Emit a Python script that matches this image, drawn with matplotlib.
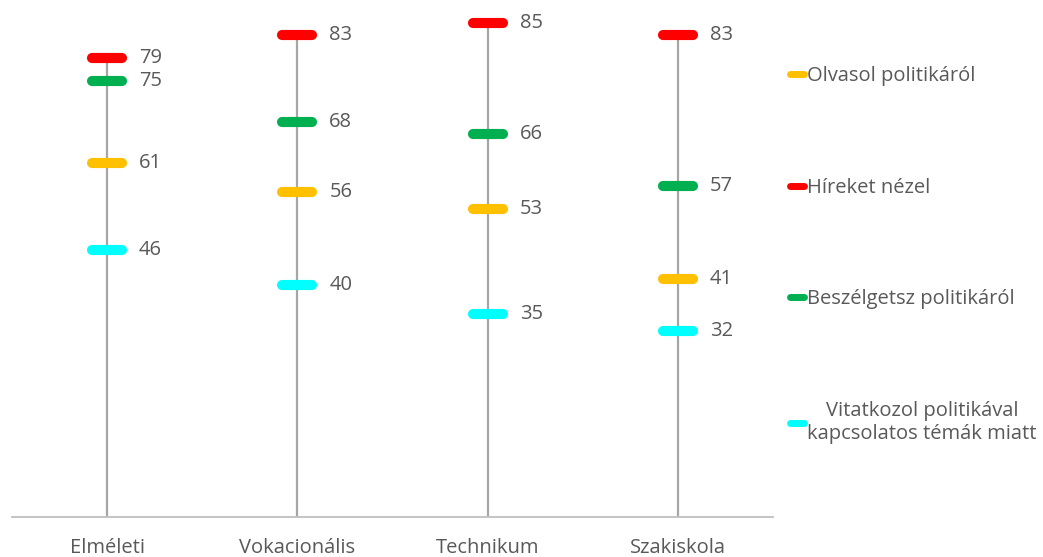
import numpy as np
import matplotlib.pyplot as plt
from matplotlib.markers import MarkerStyle

plt.rcParams['font.family'] = ['Open Sans', 'DejaVu Sans']

categories = ["Elméleti", "Vokacionális", "Technikum", "Szakiskola"]
olvasol = [61, 56, 53, 41]       # Olvasol politikáról
hireket = [79, 83, 85, 83]       # Híreket nézel
beszelgetsz = [75, 68, 66, 57]   # Beszélgetsz politikáról
vitatkozol = [46, 40, 35, 32]    # Vitatkozol ...

series = [
    ("Olvasol politikáról", olvasol, "#FFC000"),
    ("Híreket nézel", hireket, "#FF0000"),
    ("Beszélgetsz politikáról", beszelgetsz, "#00B050"),
    ("Vitatkozol politikával\nkapcsolatos témák miatt", vitatkozol, "#00FFFF"),
]
txt_col = "#595959"

fig = plt.figure(figsize=(10.43, 5.57), dpi=100)
ax = fig.add_axes([12 / 1043, 40 / 557, (773 - 12) / 1043, 517 / 557])

x = np.arange(len(categories))
tops = np.max([s[1] for s in series], axis=0)
ax.vlines(x, 0, tops, color="#A6A6A6", linewidth=1.6, zorder=1)

mk = MarkerStyle("_", capstyle="round")
for name, vals, col in series:
    ax.plot(x, vals, linestyle="none", marker=mk, markersize=21,
            markeredgewidth=7.3, color=col, label=name, zorder=3)
    for xi, v in zip(x, vals):
        ax.annotate(str(v), (xi, v), xytext=(23, 0), textcoords="offset points",
                    va="center", ha="left", fontsize=14.5, color=txt_col)

ax.set_xlim(-0.5, 3.5)
ax.set_ylim(0, 89)
ax.set_xticks(x)
ax.set_xticklabels(categories, fontsize=14.5, color=txt_col)
ax.tick_params(axis="x", length=0, pad=15)
ax.set_yticks([])
for side in ["top", "right", "left"]:
    ax.spines[side].set_visible(False)
ax.spines["bottom"].set_color("#BFBFBF")
ax.spines["bottom"].set_linewidth(1.3)

leg_handles = [plt.Line2D([0], [0], color=c, linewidth=5, solid_capstyle="round")
               for _, _, c in series]
leg = fig.legend(leg_handles, [s[0] for s in series], loc="upper left",
                 bbox_to_anchor=(774 / 1043, 1 - 50 / 557), frameon=False,
                 fontsize=14.5, handlelength=0.7, handletextpad=0.15,
                 labelspacing=4.55, labelcolor=txt_col, borderpad=0.3)
leg.get_texts()[3].set_multialignment("center")

plt.savefig("out.png", dpi=100)
